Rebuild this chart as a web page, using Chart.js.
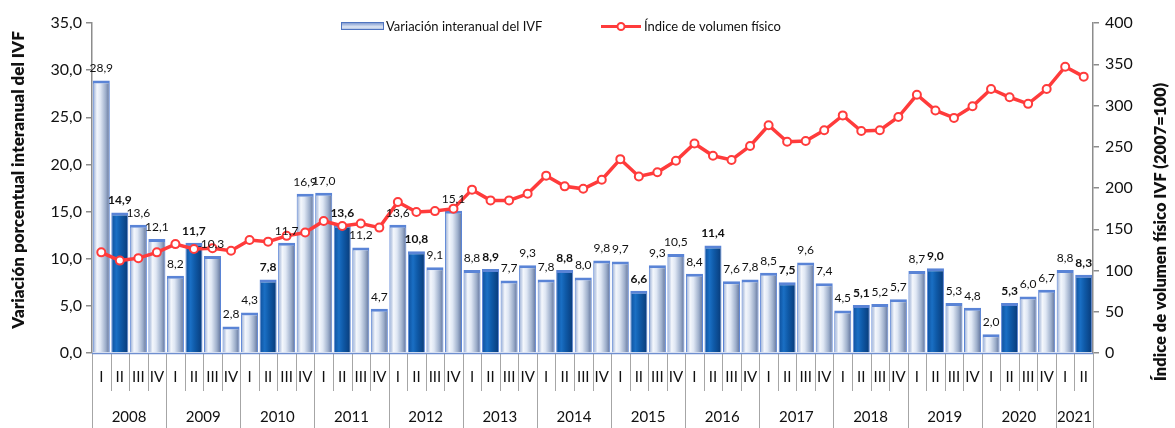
<!DOCTYPE html>
<html lang="es">
<head>
<meta charset="UTF-8">
<title>IVF</title>
<script src="https://cdn.jsdelivr.net/npm/chart.js"></script>
<style>
    body { margin: 0; padding: 0; background: #ffffff; overflow: hidden; }
    #wrap { position: relative; width: 1175px; height: 428px; }
    canvas { display: block; }
</style>
</head>
<body>
<div id="wrap"><canvas id="ivfChart" width="1175" height="428"></canvas></div>
<script>
    // Datos
    const years = ['2008', '2009', '2010', '2011', '2012', '2013', '2014', '2015', '2016', '2017', '2018', '2019', '2020', '2021'];
    const quarters = ['I', 'II', 'III', 'IV'];
    const quarterLabels = [];
    years.forEach(y => {
        const n = y === '2021' ? 2 : 4;
        for (let i = 0; i < n; i++) quarterLabels.push(quarters[i]);
    });

    const variacion = [
        28.9, 14.9, 13.6, 12.1,
        8.2, 11.7, 10.3, 2.8,
        4.3, 7.8, 11.7, 16.9,
        17.0, 13.6, 11.2, 4.7,
        13.6, 10.8, 9.1, 15.1,
        8.8, 8.9, 7.7, 9.3,
        7.8, 8.8, 8.0, 9.8,
        9.7, 6.6, 9.3, 10.5,
        8.4, 11.4, 7.6, 7.8,
        8.5, 7.5, 9.6, 7.4,
        4.5, 5.1, 5.2, 5.7,
        8.7, 9.0, 5.3, 4.8,
        2.0, 5.3, 6.0, 6.7,
        8.8, 8.3
    ];

    const indice = [
        122, 112, 115, 122,
        132, 126, 127, 124,
        137, 135, 142, 146,
        160, 154, 157, 152,
        183, 171, 172, 175,
        198, 185, 185, 193,
        215, 202, 199, 210,
        235, 214, 219, 233,
        254, 239, 234, 251,
        276, 256, 257, 270,
        288, 269, 270, 286,
        313, 294, 285, 299,
        320, 310, 302, 320,
        347, 335
    ];

    const leftTicks = [0, 5, 10, 15, 20, 25, 30, 35];
    const rightTicks = [0, 50, 100, 150, 200, 250, 300, 350, 400];

    const FONT = 'Lato, "Open Sans", sans-serif';
    const axisGrey = '#8c8c8c';

    function fmt(v) {
        return v.toFixed(1).replace('.', ',');
    }

    function barGradient(context) {
        const chart = context.chart;
        const area = chart.chartArea;
        if (!area) return '#9fb4dc';
        const i = context.dataIndex;
        const x = chart.scales.x.getPixelForValue(i);
        const w = chart.scales.x.width / quarterLabels.length * 0.92;
        const g = chart.ctx.createLinearGradient(x - w / 2, 0, x + w / 2, 0);
        if (quarterLabels[i] === 'II') {
            g.addColorStop(0, '#0d4f9c');
            g.addColorStop(0.3, '#1a6fc4');
            g.addColorStop(0.55, '#0f5aa8');
            g.addColorStop(1, '#083a78');
        } else {
            g.addColorStop(0, '#8fa6d0');
            g.addColorStop(0.25, '#f4f7fc');
            g.addColorStop(0.45, '#dfe7f4');
            g.addColorStop(0.75, '#9fb0cc');
            g.addColorStop(1, '#5d7099');
        }
        return g;
    }

    // Etiquetas, ejes de categoria en dos niveles, leyenda y titulos
    const decorations = {
        id: 'decorations',
        afterDatasetsDraw(chart) {
            const ctx = chart.ctx;
            const meta = chart.getDatasetMeta(0);
            ctx.save();
            ctx.fillStyle = '#111';
            ctx.textAlign = 'center';
            ctx.textBaseline = 'bottom';
            meta.data.forEach((bar, i) => {
                const bold = quarterLabels[i] === 'II';
                ctx.font = (bold ? 'bold ' : '') + '12px ' + FONT;
                ctx.fillText(fmt(variacion[i]), bar.x, bar.y - 6);
            });
            ctx.restore();
        },
        afterDraw(chart) {
            const ctx = chart.ctx;
            const area = chart.chartArea;
            const xs = chart.scales.x;
            const n = quarterLabels.length;
            const step = (area.right - area.left) / n;
            ctx.save();

            // separadores y etiquetas de trimestres
            ctx.strokeStyle = '#a6a6a6';
            ctx.lineWidth = 1;
            ctx.fillStyle = '#111';
            ctx.font = '15px ' + FONT;
            ctx.textAlign = 'center';
            ctx.textBaseline = 'middle';
            for (let i = 0; i <= n; i++) {
                const x = Math.round(area.left + i * step) + 0.5;
                const isYear = i === 0 || i === n || quarterLabels[i] === 'I';
                ctx.beginPath();
                ctx.moveTo(x, area.bottom);
                ctx.lineTo(x, isYear ? 428 : area.bottom + 38);
                ctx.stroke();
            }
            quarterLabels.forEach((q, i) => {
                ctx.fillText(q, xs.getPixelForValue(i), area.bottom + 24);
            });

            // etiquetas de años
            let start = 0;
            years.forEach(y => {
                const cnt = y === '2021' ? 2 : 4;
                const cx = area.left + (start + cnt / 2) * step;
                ctx.fillText(y, cx, area.bottom + 64);
                start += cnt;
            });

            // linea del eje x
            ctx.strokeStyle = '#6f8fd0';
            ctx.lineWidth = 1.5;
            ctx.beginPath();
            ctx.moveTo(area.left, area.bottom + 0.5);
            ctx.lineTo(area.right, area.bottom + 0.5);
            ctx.stroke();

            // titulos de ejes
            ctx.fillStyle = '#111';
            ctx.font = '800 17px ' + FONT;
            ctx.textBaseline = 'middle';
            ctx.translate(19, 180);
            ctx.rotate(-Math.PI / 2);
            ctx.fillText('Variación porcentual interanual del IVF', 0, 0);
            ctx.setTransform(1, 0, 0, 1, 0, 0);
            ctx.font = '800 16.5px ' + FONT;
            ctx.translate(1161, 232);
            ctx.rotate(-Math.PI / 2);
            ctx.fillText('Índice de volumen físico IVF (2007=100)', 0, 0);
            ctx.setTransform(1, 0, 0, 1, 0, 0);

            // leyenda
            const lg = ctx.createLinearGradient(0, 21, 0, 33);
            lg.addColorStop(0, '#5577c0');
            lg.addColorStop(0.5, '#dfe7f4');
            lg.addColorStop(1, '#5577c0');
            ctx.fillStyle = lg;
            ctx.fillRect(341, 22, 43, 8);
            ctx.strokeStyle = '#4f74c0';
            ctx.lineWidth = 1;
            ctx.strokeRect(341.5, 22.5, 42, 7);
            ctx.fillStyle = '#111';
            ctx.font = '13px ' + FONT;
            ctx.textAlign = 'left';
            ctx.fillText('Variación interanual del IVF', 386, 27);

            ctx.strokeStyle = '#ff3b3b';
            ctx.lineWidth = 3;
            ctx.beginPath();
            ctx.moveTo(601, 26.5);
            ctx.lineTo(641, 26.5);
            ctx.stroke();
            ctx.beginPath();
            ctx.arc(621, 26.5, 3.5, 0, Math.PI * 2);
            ctx.fillStyle = '#fff';
            ctx.fill();
            ctx.lineWidth = 2;
            ctx.stroke();
            ctx.fillStyle = '#111';
            ctx.fillText('Índice de volumen físico', 644, 27);

            ctx.restore();
        }
    };

    new Chart(document.getElementById('ivfChart'), {
        data: {
            labels: quarterLabels,
            datasets: [
                {
                    type: 'bar',
                    label: 'Variación interanual del IVF',
                    data: variacion,
                    yAxisID: 'y',
                    order: 2,
                    backgroundColor: barGradient,
                    borderColor: '#5a84d6',
                    borderWidth: { top: 3, left: 1, right: 1, bottom: 0 },
                    borderSkipped: false,
                    barPercentage: 0.92,
                    categoryPercentage: 1.0
                },
                {
                    type: 'line',
                    label: 'Índice de volumen físico',
                    data: indice,
                    yAxisID: 'y1',
                    order: 1,
                    borderColor: '#ff3b3b',
                    borderWidth: 3.5,
                    pointRadius: 4,
                    pointBackgroundColor: '#ffffff',
                    pointBorderColor: '#ff3b3b',
                    pointBorderWidth: 2,
                    tension: 0
                }
            ]
        },
        options: {
            responsive: false,
            animation: false,
            devicePixelRatio: 1,
            layout: { padding: { top: 23, bottom: 0, left: 0, right: 0 } },
            plugins: {
                legend: { display: false },
                tooltip: { enabled: false }
            },
            scales: {
                x: {
                    offset: true,
                    grid: { display: false },
                    border: { display: false },
                    ticks: { display: false },
                    afterFit(scale) { scale.height = 75; }
                },
                y: {
                    position: 'left',
                    min: 0,
                    max: 35,
                    afterBuildTicks(scale) { scale.ticks = leftTicks.map(v => ({ value: v })); },
                    ticks: {
                        callback: v => fmt(v),
                        color: '#111',
                        font: { family: FONT, size: 16 },
                        padding: 4
                    },
                    grid: { drawOnChartArea: false, color: axisGrey, tickLength: 6, lineWidth: 1.5 },
                    border: { color: axisGrey, width: 1.5 },
                    afterFit(scale) { scale.width = 92; }
                },
                y1: {
                    position: 'right',
                    min: 0,
                    max: 400,
                    afterBuildTicks(scale) { scale.ticks = rightTicks.map(v => ({ value: v })); },
                    ticks: {
                        callback: v => String(v),
                        color: '#111',
                        font: { family: FONT, size: 16 },
                        padding: 6
                    },
                    grid: { drawOnChartArea: false, color: axisGrey, tickLength: 6, lineWidth: 1.5 },
                    border: { color: axisGrey, width: 1.5 },
                    afterFit(scale) { scale.width = 82; }
                }
            }
        },
        plugins: [decorations]
    });
</script>
</body>
</html>
